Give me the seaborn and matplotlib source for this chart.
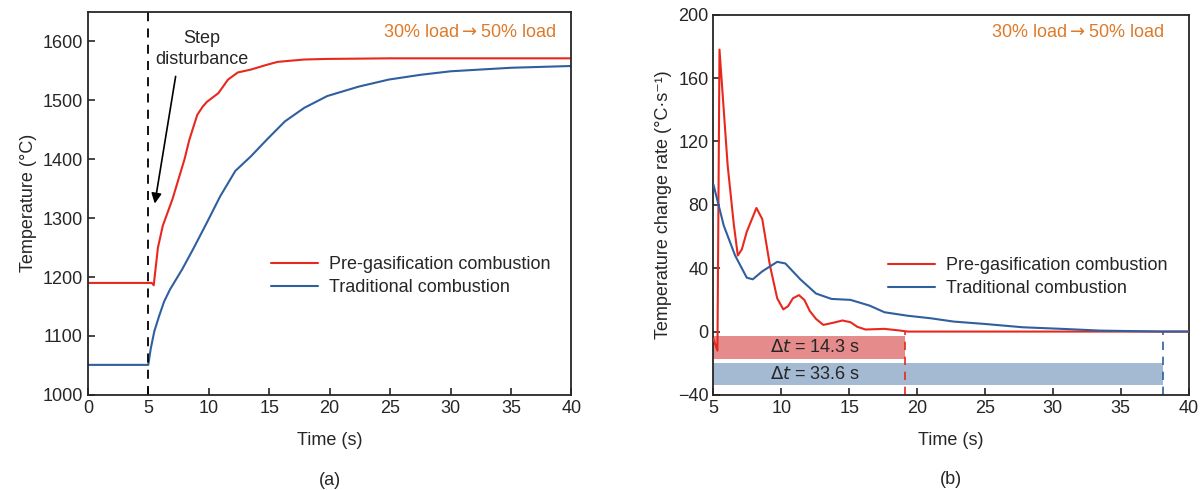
import numpy as np
import pandas as pd
import seaborn as sns
import matplotlib
import matplotlib.pyplot as plt

matplotlib.use("Agg")

# (a) Temperatur
t_pre_a = [0, 5.0, 5.3, 5.45, 5.8, 6.2, 7.0, 7.5, 8.0, 8.4, 9.05, 9.5, 9.84, 10.8, 11.6, 12.4, 13.5, 14.8, 15.7, 17.9, 19.8, 25, 30, 40]
temp_pre = [1190, 1190, 1190, 1186, 1250, 1287, 1332, 1366, 1400, 1433, 1475, 1489, 1497, 1512, 1535, 1547, 1552, 1560, 1565, 1569, 1570, 1571, 1571, 1571]
t_trad_a = [0, 5.0, 5.2, 5.5, 5.9, 6.3, 6.8, 7.8, 8.7, 9.84, 10.95, 12.2, 13.5, 14.8, 16.3, 17.9, 19.8, 22.4, 24.9, 27.5, 30, 35, 40]
temp_trad = [1051, 1051, 1078, 1108, 1134, 1158, 1179, 1213, 1247, 1292, 1337, 1380, 1405, 1433, 1464, 1487, 1507, 1523, 1535, 1543, 1549, 1555, 1558]

# (b) Temperaturänderungsrate
t_pre_b = [5.0, 5.3, 5.45, 6.05, 6.5, 6.8, 7.1, 7.46, 8.17, 8.6, 9.16, 9.7, 10.15, 10.5, 10.86, 11.3, 11.7, 12.1, 12.56, 13.1, 14.0, 14.5, 15.1, 15.6, 16.2, 17.6, 18.8, 19.3, 25, 40]
rate_pre = [-4.6, -12, 178, 105, 68, 48, 52, 63, 78, 71, 42, 21, 14, 16, 21, 23, 20, 13, 8, 4.2, 5.9, 7, 5.9, 3, 1.3, 1.7, 0.6, 0, 0, 0]
t_trad_b = [5.0, 5.76, 6.6, 7.46, 7.9, 8.6, 9.7, 10.3, 11.4, 12.56, 13.7, 15.1, 16.5, 17.6, 19.3, 21, 22.7, 25, 27.8, 30.7, 33.5, 38, 40]
rate_trad = [93, 67, 48, 34, 33, 38, 44, 43, 33, 24, 20.6, 20, 16.4, 12.2, 10, 8.4, 6.3, 4.8, 2.7, 1.7, 0.6, 0, 0]

bar_labels = ["14.3", "33.6"]
bar_end = [19.1, 38.1]
bar_low = [-17.5, -34]
bar_high = [-3, -20]

red = "#e8281e"
blue = "#2f5f9f"
orange = "#dd7a2a"
fs = 13
load_txt = r"30% load$\rightarrow$50% load"

sns.set_style("ticks")
plt.rcParams["font.family"] = ["Liberation Sans", "DejaVu Sans"]
plt.rcParams["font.size"] = fs
plt.rcParams["xtick.direction"] = "in"
plt.rcParams["ytick.direction"] = "in"
plt.rcParams["axes.linewidth"] = 1.3

fig = plt.figure(figsize=(12.03, 4.9), dpi=100)
ax1 = fig.add_axes([0.073, 0.194, 0.402, 0.782])
ax2 = fig.add_axes([0.593, 0.194, 0.395, 0.776])

df_a = pd.concat([
    pd.DataFrame({"t": t_pre_a, "v": temp_pre, "s": "Pre-gasification combustion"}),
    pd.DataFrame({"t": t_trad_a, "v": temp_trad, "s": "Traditional combustion"}),
])
df_b = pd.concat([
    pd.DataFrame({"t": t_pre_b, "v": rate_pre, "s": "Pre-gasification combustion"}),
    pd.DataFrame({"t": t_trad_b, "v": rate_trad, "s": "Traditional combustion"}),
])
pal = {"Pre-gasification combustion": red, "Traditional combustion": blue}

# --- (a)
sns.lineplot(data=df_a, x="t", y="v", hue="s", palette=pal, lw=1.5, ax=ax1, sort=False)
ax1.axvline(5, color="black", ls=(0, (5, 4)), lw=1.3)
ax1.annotate("", xy=(5.5, 1320), xytext=(7.3, 1545),
             arrowprops=dict(arrowstyle="-|>", color="black", lw=1.2, mutation_scale=15))
ax1.text(9.4, 1605, "Step", ha="center", va="center", fontsize=fs)
ax1.text(9.4, 1569, "disturbance", ha="center", va="center", fontsize=fs)
ax1.text(38.7, 1614, load_txt, ha="right", va="center", color=orange, fontsize=fs)
ax1.set_xlim(0, 40)
ax1.set_ylim(1000, 1650)
ax1.set_xticks(np.arange(0, 41, 5))
ax1.set_yticks(np.arange(1000, 1601, 100))
ax1.set_xlabel("Time (s)", labelpad=11)
ax1.set_ylabel("Temperature (°C)")
ax1.legend(loc="center right", bbox_to_anchor=(0.99, 0.31), frameon=False, handlelength=2.6,
           fontsize=fs, labelspacing=0.35, handletextpad=0.6)
ax1.text(0.5, -0.222, "(a)", transform=ax1.transAxes, ha="center", va="center", fontsize=fs)

# --- (b)
for i in range(2):
    c = "#e58b8b" if i == 0 else "#a4b9d2"
    ax2.fill_between([5, bar_end[i]], bar_low[i], bar_high[i], color=c, lw=0, zorder=1)
    ax2.text(9.2, (bar_low[i] + bar_high[i]) / 2, r"$\Delta t$ = " + bar_labels[i] + " s",
             ha="left", va="center", fontsize=fs, zorder=3)
ax2.plot([bar_end[0], bar_end[0]], [-40, 0], color=red, ls=(0, (5, 4)), lw=1.2, zorder=2)
ax2.plot([bar_end[1], bar_end[1]], [-40, 0], color=blue, ls=(0, (5, 4)), lw=1.2, zorder=2)
sns.lineplot(data=df_b, x="t", y="v", hue="s", palette=pal, lw=1.5, ax=ax2, sort=False, zorder=4)
ax2.text(38.2, 189, load_txt, ha="right", va="center", color=orange, fontsize=fs)
ax2.set_xlim(5, 40)
ax2.set_ylim(-40, 200)
ax2.set_xticks(np.arange(5, 41, 5))
ax2.set_yticks(np.arange(-40, 201, 40))
ax2.set_yticklabels(["−40", "0", "40", "80", "120", "160", "200"])
ax2.set_xlabel("Time (s)", labelpad=11)
ax2.set_ylabel("Temperature change rate (°C·s⁻¹)")
ax2.legend(loc="center right", bbox_to_anchor=(0.99, 0.31), frameon=False, handlelength=2.6,
           fontsize=fs, labelspacing=0.35, handletextpad=0.6)
ax2.text(0.5, -0.222, "(b)", transform=ax2.transAxes, ha="center", va="center", fontsize=fs)

for ax in (ax1, ax2):
    ax.tick_params(length=5, width=1.2, labelsize=fs)
    for s in ax.spines.values():
        s.set_visible(True)

plt.savefig("out.png", dpi=100)
